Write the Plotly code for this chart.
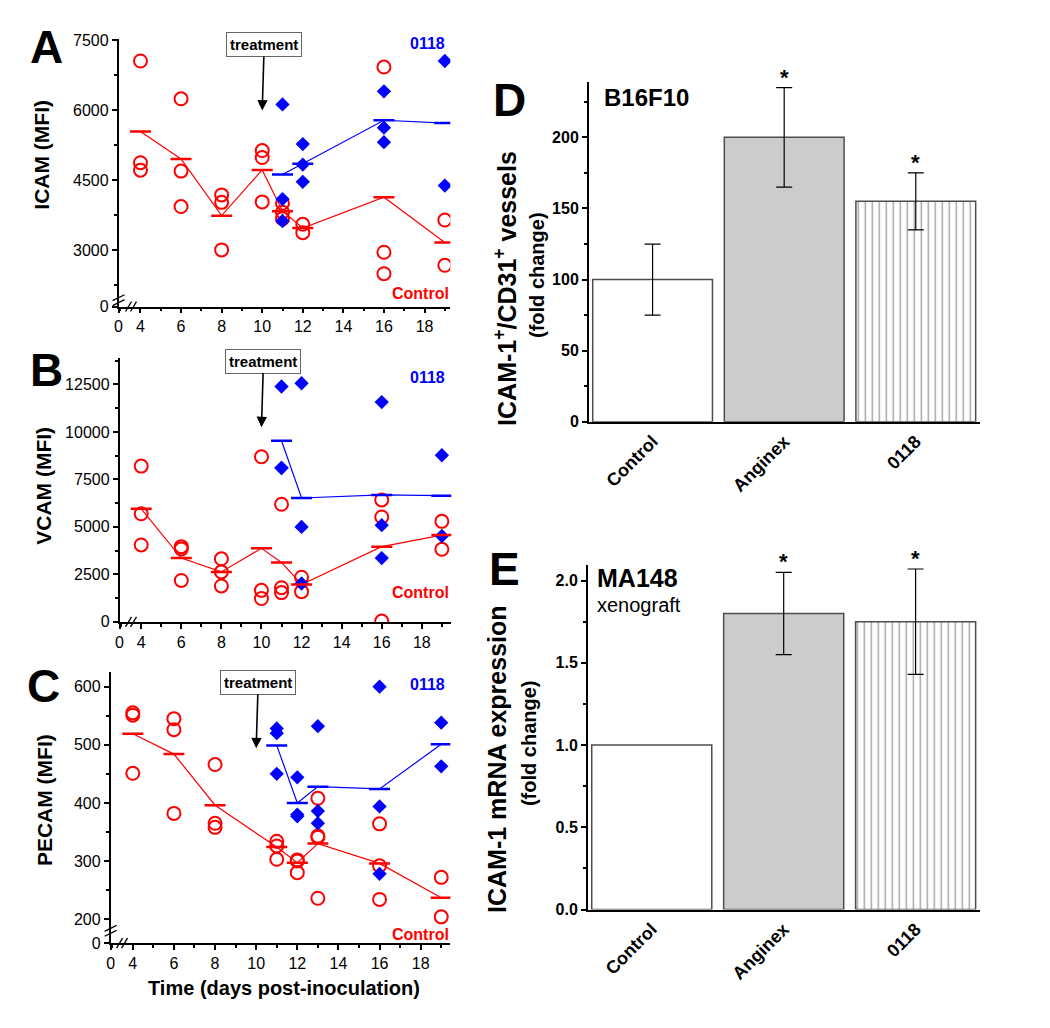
import plotly.graph_objects as go

W, H = 1050, 1028
RED = "#ff0000"
BLUE = "#0000ff"
FONT = "Liberation Sans, Arial, sans-serif"

# ---- panel A : ICAM (MFI) ----
a_ctrl_x = [4, 4, 4, 6, 6, 6, 8, 8, 8, 10, 10, 10, 11, 11, 11, 12, 12, 16, 16, 16, 19, 19]
a_ctrl_y = [7060, 4880, 4720, 6250, 4700, 3940, 4190, 4030, 3010, 5140, 4990, 4040,
            4010, 3820, 3680, 3560, 3380, 6930, 2960, 2500, 3650, 2680]
a_ctrl_mean_x = [4, 6, 8, 10, 11, 12, 16, 19]
a_ctrl_mean_y = [5550, 4960, 3745, 4725, 3840, 3480, 4140, 3170]
a_trt_x = [11, 11, 11, 12, 12, 12, 16, 16, 16, 19, 19]
a_trt_y = [6130, 4100, 3630, 5280, 4840, 4470, 6410, 5630, 5320, 7060, 4390]
a_trt_mean_x = [11, 12, 16, 19]
a_trt_mean_y = [4625, 4860, 5790, 5730]

# ---- panel B : VCAM (MFI) ----
b_ctrl_x = [4, 4, 4, 6, 6, 6, 8, 8, 8, 10, 10, 10, 11, 11, 11, 12, 12, 16, 16, 16, 19, 19]
b_ctrl_y = [8200, 5690, 4050, 3960, 3840, 2180, 3320, 2630, 1890, 8690, 1660, 1230,
            6190, 1800, 1540, 2350, 1590, 6420, 5520, 40, 5290, 3820]
b_ctrl_mean_x = [4, 6, 8, 10, 11, 12, 16, 19]
b_ctrl_mean_y = [5950, 3360, 2630, 3870, 3130, 1970, 3960, 4570]
b_trt_x = [11, 11, 11, 12, 12, 12, 16, 16, 16, 19, 19]
b_trt_y = [12390, 8100, 8110, 12560, 5000, 2020, 11570, 5090, 3360, 8770, 4520]
b_trt_mean_x = [11, 12, 16, 19]
b_trt_mean_y = [9530, 6520, 6680, 6640]

# ---- panel C : PECAM (MFI) ----
c_ctrl_x = [4, 4, 4, 6, 6, 6, 8, 8, 8, 11, 11, 11, 12, 12, 12, 13, 13, 13, 13, 16, 16, 16, 19, 19]
c_ctrl_y = [555, 551, 451, 545, 526, 382, 466, 365, 358, 334, 326, 303, 302, 300, 280,
            408, 343, 341, 236, 364, 292, 234, 272, 204]
c_ctrl_mean_x = [4, 6, 8, 11, 12, 13, 16, 19]
c_ctrl_mean_y = [519, 484, 396, 324, 297, 330, 296, 237]
c_trt_x = [11, 11, 11, 12, 12, 12, 13, 13, 13, 16, 16, 16, 19, 19]
c_trt_y = [528, 520, 450, 444, 380, 377, 532, 386, 365, 600, 394, 278, 538, 463]
c_trt_mean_x = [11, 12, 13, 16, 19]
c_trt_mean_y = [499, 400, 428, 424, 501]

# ---- panels D and E : bars ----
groups = ["Control", "Anginex", "0118"]
d_vals = [100, 200, 155]
d_err = [25, 35, 20]
e_vals = [1.0, 1.80, 1.75]
e_err = [None, 0.25, 0.32]
starred = ["Anginex", "0118"]


def px(x):
    return x / W


def py(y):
    return 1 - y / H


fig = go.Figure()


def scatter_panel(n, cx, cy, cmx, cmy, tx, ty, tmx, tmy):
    xa = "x" if n == 1 else "x%d" % n
    ya = "y" if n == 1 else "y%d" % n
    fig.add_trace(go.Scatter(x=cmx, y=cmy, mode="lines", line=dict(color=RED, width=1.2),
                             xaxis=xa, yaxis=ya, hoverinfo="skip"))
    fig.add_trace(go.Scatter(x=tmx, y=tmy, mode="lines", line=dict(color=BLUE, width=1.2),
                             xaxis=xa, yaxis=ya, hoverinfo="skip"))
    fig.add_trace(go.Scatter(x=cx, y=cy, mode="markers", xaxis=xa, yaxis=ya,
                             marker=dict(symbol="circle-open", size=13, color=RED,
                                         line=dict(width=2, color=RED))))
    fig.add_trace(go.Scatter(x=tx, y=ty, mode="markers", xaxis=xa, yaxis=ya,
                             marker=dict(symbol="diamond", size=11, color=BLUE,
                                         line=dict(width=0))))
    fig.add_trace(go.Scatter(x=cmx, y=cmy, mode="markers", xaxis=xa, yaxis=ya,
                             marker=dict(symbol="line-ew", size=15, color=RED,
                                         line=dict(width=2.5, color=RED))))
    fig.add_trace(go.Scatter(x=tmx, y=tmy, mode="markers", xaxis=xa, yaxis=ya,
                             marker=dict(symbol="line-ew", size=15, color=BLUE,
                                         line=dict(width=2.5, color=BLUE))))


scatter_panel(1, a_ctrl_x, a_ctrl_y, a_ctrl_mean_x, a_ctrl_mean_y,
              a_trt_x, a_trt_y, a_trt_mean_x, a_trt_mean_y)
scatter_panel(2, b_ctrl_x, b_ctrl_y, b_ctrl_mean_x, b_ctrl_mean_y,
              b_trt_x, b_trt_y, b_trt_mean_x, b_trt_mean_y)
scatter_panel(3, c_ctrl_x, c_ctrl_y, c_ctrl_mean_x, c_ctrl_mean_y,
              c_trt_x, c_trt_y, c_trt_mean_x, c_trt_mean_y)

bar_line = "#4d4d4d"
for n, vals, err in [(4, d_vals, d_err), (5, e_vals, e_err)]:
    fig.add_trace(go.Bar(
        x=groups, y=vals, xaxis="x%d" % n, yaxis="y%d" % n,
        marker=dict(color=["white", "#cccccc", "white"],
                    line=dict(color=bar_line, width=1.5),
                    pattern=dict(shape=["", "", "|"], fgcolor="#333333", size=7, solidity=0.2)),
    ))
    # error bars only where the reference shows one
    gx = [g for g, e in zip(groups, err) if e is not None]
    gy = [v for v, e in zip(vals, err) if e is not None]
    ge = [e for e in err if e is not None]
    fig.add_trace(go.Scatter(
        x=gx, y=gy, mode="markers", xaxis="x%d" % n, yaxis="y%d" % n,
        marker=dict(size=1, color="rgba(0,0,0,0)"),
        error_y=dict(type="data", array=ge, visible=True, color="black", thickness=1.2, width=8),
    ))

# ---- axes ----
ax_common = dict(showline=True, linecolor="black", linewidth=1.5, ticks="outside", ticklen=5,
                 tickwidth=1.5, tickcolor="black", showgrid=False, zeroline=False,
                 tickfont=dict(family=FONT, size=16, color="black"))


def xaxis_time(dom, rng):
    d = dict(ax_common)
    d.update(domain=[px(dom[0]), px(dom[1])], range=rng,
             tickvals=[rng[0], 4, 6, 8, 10, 12, 14, 16, 18],
             ticktext=["0", "4", "6", "8", "10", "12", "14", "16", "18"],
             minor=dict(ticks="outside", ticklen=3, tickwidth=1.5, tickcolor="black",
                        tick0=0, dtick=1))
    return d


def yaxis_mfi(dom, rng, vals, labels, mdt):
    d = dict(ax_common)
    d.update(domain=[py(dom[1]), py(dom[0])], range=rng, tickvals=vals, ticktext=labels,
             minor=dict(ticks="outside", ticklen=3, tickwidth=1.5, tickcolor="black",
                        tick0=0, dtick=mdt))
    return d


a_xr = [2.92, 19.27]
a_yr = [1796, 7542]
b_xr = [2.92, 19.47]
b_yr = [0, 13900]
c_xr = [2.92, 19.44]
c_yr = [158.8, 625]

layout_axes = dict(
    xaxis=dict(xaxis_time((115, 448), a_xr), anchor="y"),
    yaxis=dict(yaxis_mfi((33, 305), a_yr, [a_yr[0], 3000, 4500, 6000, 7500],
                         ["0", "3000", "4500", "6000", "7500"], 750), anchor="x"),
    xaxis2=dict(xaxis_time((116, 449), b_xr), anchor="y2"),
    yaxis2=dict(yaxis_mfi((357, 625), b_yr, [0, 2500, 5000, 7500, 10000, 12500],
                          ["0", "2500", "5000", "7500", "10000", "12500"], 1250), anchor="x2"),
    xaxis3=dict(xaxis_time((107, 448), c_xr), anchor="y3"),
    yaxis3=dict(yaxis_mfi((676, 951), c_yr, [c_yr[0], 200, 300, 400, 500, 600],
                          ["0", "200", "300", "400", "500", "600"], 50), anchor="x3"),
)

bold_tick = dict(family=FONT, size=16, color="black", weight="bold")
for n, xd, yd, yr, dt, mdt in [(4, (587, 980), (77, 422), [0, 239], 50, 25),
                               (5, (586, 980), (567, 917), [0, 2.096], 0.5, 0.25)]:
    layout_axes["xaxis%d" % n] = dict(
        domain=[px(xd[0]), px(xd[1])], anchor="y%d" % n, type="category",
        range=[-0.485, 2.49], showline=True, linecolor="black", linewidth=2,
        ticks="", showgrid=False, tickangle=-45, tickfont=dict(family=FONT, size=18,
                                                               color="black", weight="bold"))
    layout_axes["yaxis%d" % n] = dict(
        domain=[py(yd[1]), py(yd[0])], anchor="x%d" % n, range=yr, showline=True,
        linecolor="black", linewidth=1.5, ticks="outside", ticklen=5, tickwidth=1.5,
        tickcolor="black", showgrid=False, zeroline=False, tick0=0, dtick=dt,
        tickformat=".1f" if n == 5 else "d", tickfont=bold_tick,
        minor=dict(ticks="outside", ticklen=3, tickwidth=1.5, tickcolor="black", dtick=mdt))

# ---- annotations ----
ann = []


def text(x, y, s, size, color="black", bold=True, angle=0, xanchor="center", yanchor="middle"):
    ann.append(dict(x=px(x), y=py(y), xref="paper", yref="paper", text=s, showarrow=False,
                    textangle=angle, xanchor=xanchor, yanchor=yanchor,
                    font=dict(family=FONT, size=size, color=color,
                              weight="bold" if bold else "normal")))


for letter, x, y in [("A", 43, 42), ("B", 43, 369), ("C", 40, 690), ("D", 507, 95), ("E", 502, 571)]:
    text(x, y, letter, 46)

text(38, 151, "ICAM (MFI)", 21, angle=-90)
text(40, 487, "VCAM (MFI)", 21, angle=-90)
text(40, 806, "PECAM (MFI)", 21, angle=-90)
text(281, 997, "Time (days post-inoculation)", 20)

text(503, 287, "ICAM-1<sup>+</sup>/CD31<sup>+</sup> vessels", 25, angle=-90)
text(535, 273, "(fold change)", 20, angle=-90)
text(495, 765, "ICAM-1 mRNA expression", 25, angle=-90)
text(527, 748, "(fold change)", 20, angle=-90)

text(600, 93, "B16F10", 24, xanchor="left")
text(593, 580, "MA148", 25, xanchor="left")
text(593, 608, "xenograft", 20, bold=False, xanchor="left")

for yy in (38, 377, 689):
    text(445, yy, "0118", 16, color=BLUE, xanchor="right")
for yy in (292, 595, 942):
    text(449, yy, "Control", 16, color=RED, xanchor="right")

# treatment arrows, tip at day 10
for xa, ya, tip in [("x", "y", 6000), ("x2", "y2", 10250), ("x3", "y3", 494)]:
    ann.append(dict(x=10, y=tip, xref=xa, yref=ya, ax=2, ay=-66, text="treatment",
                    showarrow=True, arrowhead=2, arrowsize=1.3, arrowwidth=1.6,
                    arrowcolor="black", bordercolor="#666666", borderwidth=1, borderpad=3,
                    bgcolor="white",
                    font=dict(family=FONT, size=15, color="black", weight="bold")))

# significance stars (category index used so "0118" is not read as a number)
for n, vals, err in [(4, d_vals, d_err), (5, e_vals, e_err)]:
    for g in starred:
        i = groups.index(g)
        ann.append(dict(x=i, y=vals[i] + err[i], xref="x%d" % n, yref="y%d" % n, text="*",
                        showarrow=False, yanchor="bottom", yshift=-4,
                        font=dict(family=FONT, size=22, color="black", weight="bold")))

# ---- axis break marks ----
shapes = []


def seg(x0, y0, x1, y1):
    shapes.append(dict(type="line", xref="paper", yref="paper", x0=px(x0), y0=py(y0),
                       x1=px(x1), y1=py(y1), line=dict(color="black", width=1.3)))


for xb, yb in [(125, 305), (125, 625), (116, 951)]:
    for d in (0, 5):
        seg(xb + d - 3, yb + 5, xb + d + 3, yb - 5)
for xb, yb in [(115, 296), (107, 936)]:
    for d in (0, 5):
        seg(xb - 6, yb + d + 3, xb + 6, yb + d - 3)

fig.update_layout(
    width=W, height=H, margin=dict(l=0, r=0, t=0, b=0),
    paper_bgcolor="white", plot_bgcolor="white", showlegend=False,
    bargap=0.09, annotations=ann, shapes=shapes,
    font=dict(family=FONT, color="black"),
    **layout_axes,
)

fig.write_html("out.html", config={"displayModeBar": False},
               post_script="document.body.style.margin='0px';")
